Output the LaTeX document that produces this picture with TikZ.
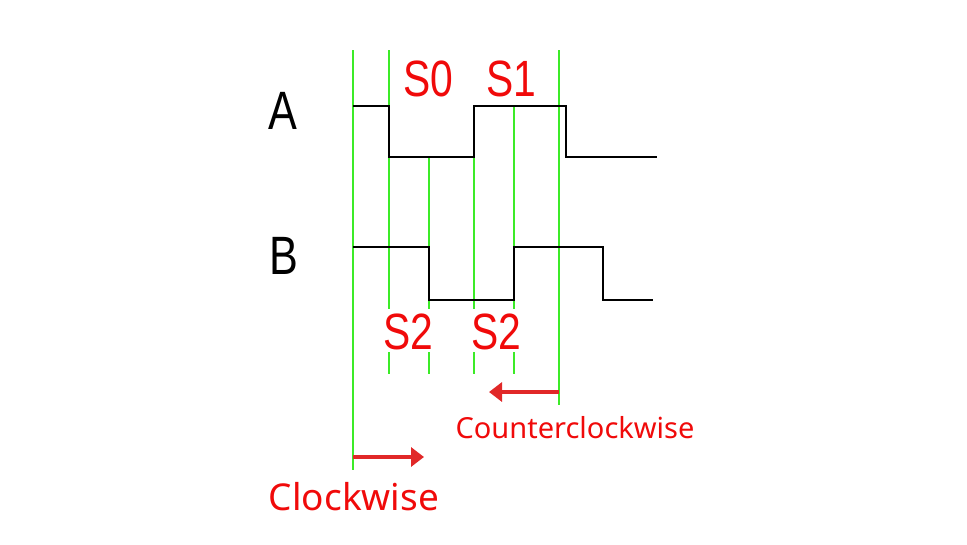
\documentclass[tikz,border=0pt]{standalone}
\usepackage{fontspec}
\setmainfont{Liberation Sans}
\newfontfamily\notos{Noto Sans}
\usetikzlibrary{arrows.meta}
\definecolor{gr}{RGB}{60,235,40}
\definecolor{rd}{RGB}{225,40,40}
\definecolor{rt}{RGB}{240,10,10}
\begin{document}
\begin{tikzpicture}[x=1pt,y=-1pt,
  gline/.style={gr,line width=2pt},
  wave/.style={black,line width=2.6pt,line join=miter},
  rarrow/.style={rd,line width=3.5pt,-{Triangle[length=13pt,width=19pt]}},
  slab/.style={rt,font=\fontsize{51}{51}\selectfont,xscale=0.8,inner sep=0},
  ablab/.style={black,font=\fontsize{54}{54}\selectfont,xscale=0.8,inner sep=0},
  dlab/.style={rt,inner sep=0}]
\useasboundingbox (0,0) rectangle (967,544);
% green lines
\draw[gline] (353,50) -- (353,470);
\draw[gline] (389,50) -- (389,309) (389,352) -- (389,374);
\draw[gline] (429,158) -- (429,309) (429,352) -- (429,374);
\draw[gline] (474,158) -- (474,309) (474,352) -- (474,374);
\draw[gline] (514,107) -- (514,309) (514,352) -- (514,374);
\draw[gline] (559,50) -- (559,405);
% waveforms
\draw[wave] (353,106) -- (389,106) -- (389,157) -- (474,157) -- (474,106) -- (566,106) -- (566,157) -- (657,157);
\draw[wave] (353,247) -- (429,247) -- (429,300) -- (514,300) -- (514,247) -- (603,247) -- (603,300) -- (653,300);
% labels
\node[ablab] (A) at (283,111) {A};
\node[ablab] (B) at (284,256) {B};
\node[slab] (s0) at (428,79) {S0};
\node[slab] (s1) at (511,79) {S1};
\node[slab] (s2a) at (408,332) {S2};
\node[slab] (s2b) at (496,332) {S2};
% arrows
\coordinate (c1) at (353,457); \coordinate (c2) at (424,457);
\coordinate (d1) at (559,392); \coordinate (d2) at (489,392);
\draw[rarrow] (c1) -- (c2);
\draw[rarrow] (d1) -- (d2);
\node[dlab,font=\notos\fontsize{37}{37}\selectfont] (cw) at (354,497) {Clockwise};
\node[dlab,font=\notos\fontsize{29}{29}\selectfont] (ccw) at (575,428) {Counterclockwise};
\end{tikzpicture}
\end{document}
